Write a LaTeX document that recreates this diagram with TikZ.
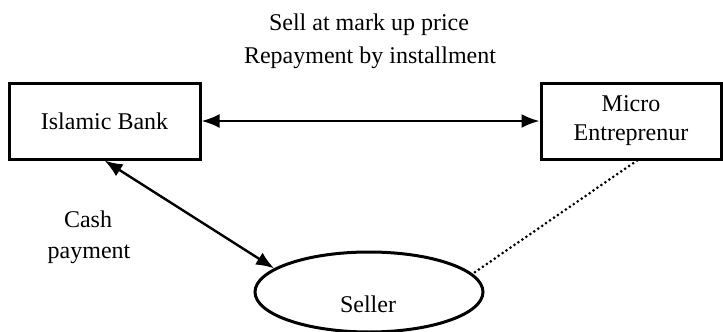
\documentclass[tikz,border=0pt]{standalone}
\usepackage{fontspec}
\setmainfont{Liberation Serif}
\usetikzlibrary{arrows.meta,shapes.geometric}
\begin{document}
\begin{tikzpicture}[x=0.5pt,y=-0.5pt,
  txt/.style={font=\fontsize{12}{14.5}\selectfont, inner sep=0pt},
  box/.style={draw, line width=1.5pt, inner sep=0pt, minimum height=38pt, align=center, font=\fontsize{12}{14.5}\selectfont},
  link/.style={line width=1.2pt, {Latex[length=9pt,width=7pt]}-{Latex[length=9pt,width=7pt]}},
  dotline/.style={line width=1.5pt, line cap=round, dash pattern=on 0pt off 2.4pt}]
\useasboundingbox (0,0) rectangle (723,332);
\node[box, minimum width=95.5pt] (bank) at (104.5,121) {Islamic Bank};
\node[box, minimum width=90pt] (micro) at (631,121) {Micro\\Entreprenur};
\node[draw, ellipse, line width=1.5pt, minimum width=114pt, minimum height=40pt, inner sep=0pt] (seller) at (369,292) {};
\node[txt, anchor=base] (sellertxt) at (368,312) {Seller};
\node[txt, anchor=base] (t1) at (369,30) {Sell at mark up price};
\node[txt, anchor=base] (t2) at (370,63) {Repayment by installment};
\node[txt, anchor=base] (c1) at (88,227) {Cash};
\node[txt, anchor=base] (c2) at (89,258) {payment};
\draw[link] (bank.east) -- (micro.west);
\draw[link] (bank.south) -- (seller.166);
\draw[dotline] ([xshift=3pt]micro.south) -- (seller.10);
\end{tikzpicture}
\end{document}
